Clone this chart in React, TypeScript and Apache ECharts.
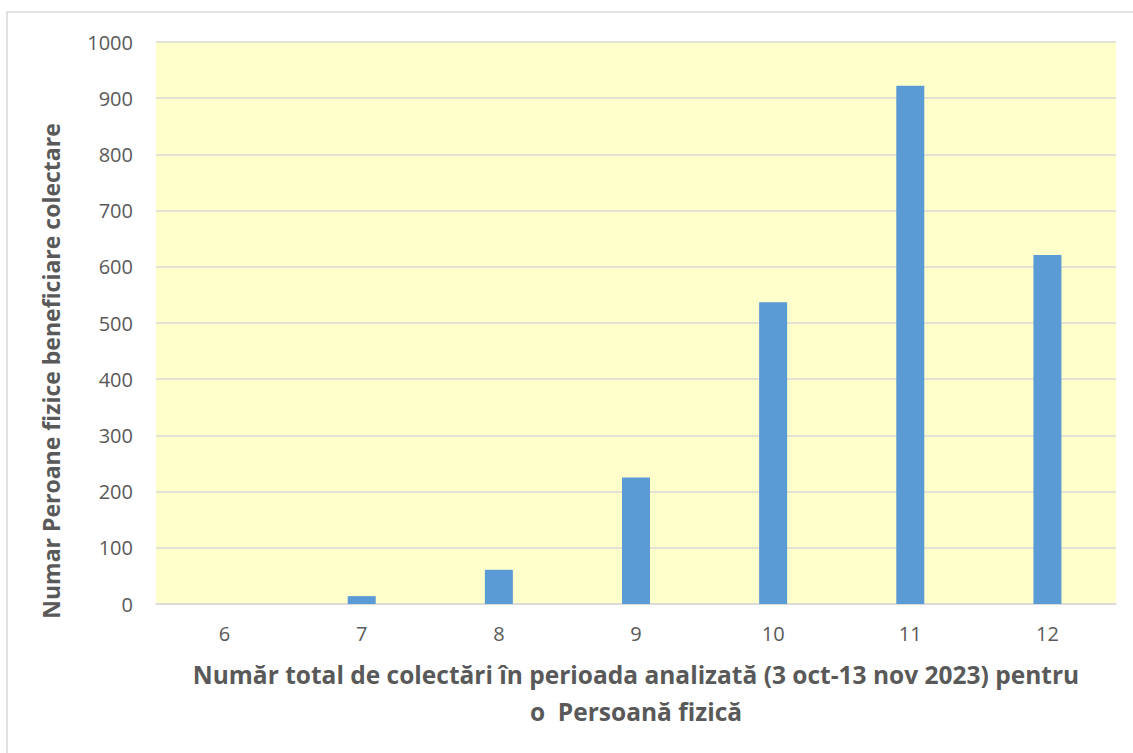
import React, { useEffect, useRef } from "react";
import * as echarts from "echarts";

const categories = ["6", "7", "8", "9", "10", "11", "12"];
const values = [0, 14, 61, 225, 537, 922, 621];
const xTitle = "Număr total de colectări în perioada analizată (3 oct-13 nov 2023) pentru\no  Persoană fizică";
const yTitle = "Numar Peroane fizice beneficiare colectare";

export default function App() {
  const ref = useRef<HTMLDivElement>(null);
  useEffect(() => {
    if (!ref.current) return;
    const chart = echarts.init(ref.current, null, { renderer: "svg" });
    const font = "'Open Sans', 'Noto Sans', sans-serif";
    chart.setOption({
      animation: false,
      backgroundColor: "#ffffff",
      grid: {
        left: 156,
        right: 17,
        top: 42,
        bottom: 149,
        show: true,
        backgroundColor: "#FFFFCC",
        borderWidth: 0,
      },
      xAxis: {
        type: "category",
        data: categories,
        axisTick: { show: false },
        axisLine: { lineStyle: { color: "#d9d9d9", width: 1.5 } },
        axisLabel: { color: "#595959", fontSize: 20, fontFamily: font, margin: 19 },
        name: xTitle,
        nameLocation: "middle",
        nameGap: 52,
        nameTextStyle: {
          color: "#595959",
          fontSize: 24.5,
          fontWeight: "bold",
          fontFamily: font,
          lineHeight: 37,
        },
      },
      yAxis: {
        type: "value",
        min: 0,
        max: 1000,
        interval: 100,
        axisLine: { show: false },
        axisTick: { show: false },
        splitLine: { lineStyle: { color: "#d9d9d9", width: 1.5 } },
        axisLabel: {
          color: "#595959",
          fontSize: 20,
          fontFamily: font,
          margin: 23,
          formatter: (v: number) => String(v),
        },
      },
      graphic: [
        {
          type: "rect",
          shape: { x: 7, y: 12, width: 1200, height: 800 },
          style: { fill: "none", stroke: "#d9d9d9", lineWidth: 1.5 },
          silent: true,
        },
        {
          type: "text",
          x: 51,
          y: 371,
          rotation: Math.PI / 2,
          style: {
            text: yTitle,
            fill: "#595959",
            font: `bold 23px ${font}`,
            align: "center",
            verticalAlign: "middle",
          },
        },
      ],
      series: [
        {
          type: "bar",
          data: values,
          barWidth: 28,
          itemStyle: { color: "#5B9BD5" },
        },
      ],
    });
    return () => chart.dispose();
  }, []);
  return (
    <div
      ref={ref}
      style={{ position: "fixed", left: 0, top: 0, width: 1133, height: 753 }}
    />
  );
}
